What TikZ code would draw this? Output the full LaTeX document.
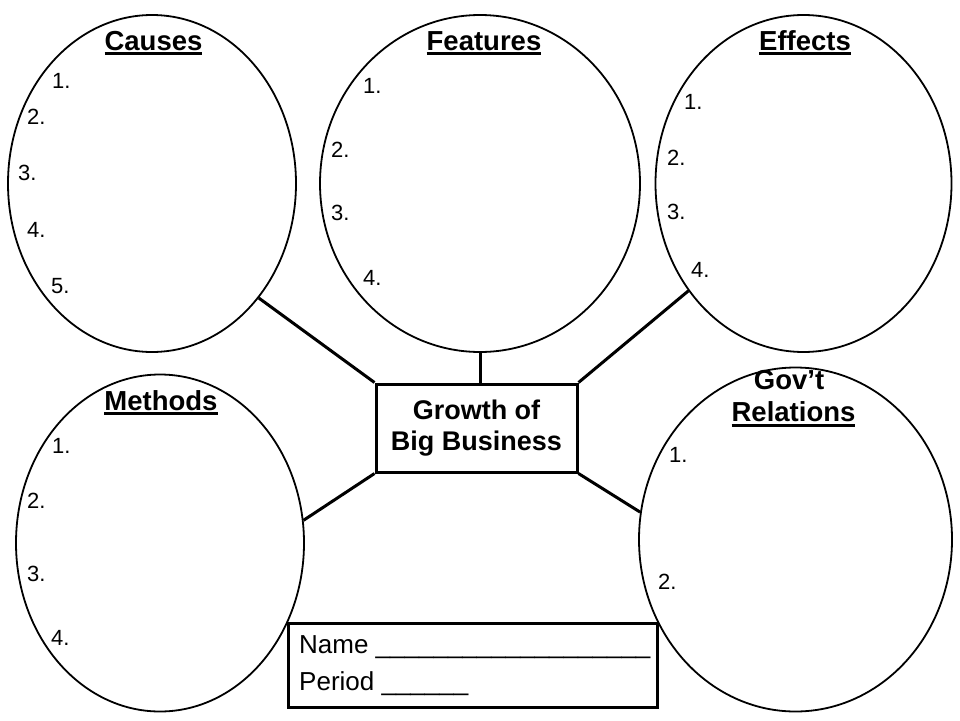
\documentclass[tikz,border=0pt]{standalone}
\usepackage{fontspec}
\setmainfont{Liberation Sans}
\usepackage{tikz}
\usetikzlibrary{shapes.geometric, calc}
\tikzset{
  bubble/.style = {ellipse, draw=black, line width=1.8pt, inner sep=0pt},% bulle
  hub_box/.style = {rectangle, draw=black, line width=3pt, inner sep=0pt,
    align=center, font=\fontsize{27}{31.5}\selectfont\bfseries},% boite centrale
  name_box/.style = {rectangle, draw=black, line width=3pt, inner sep=0pt},% nom et periode
  title_t/.style = {anchor=base, inner sep=0pt,
    font=\fontsize{27.5}{30}\selectfont\bfseries},% titre de bulle
  num_t/.style = {anchor=base west, inner sep=0pt,
    font=\fontsize{22}{24}\selectfont},% numero
  name_t/.style = {anchor=base west, inner sep=0pt,
    font=\fontsize{26}{30}\selectfont},% ligne a remplir
  spoke/.style = {line width=3pt}% rayon
}
\newcommand{\ulbar}[1]{\setbox0=\hbox{#1}\rlap{\rule[-5pt]{\wd0}{2.8pt}}\box0}

\begin{document}
\begin{tikzpicture}[x=1pt, y=-1pt]
\useasboundingbox (0,0) rectangle (960,720);

\node[bubble, minimum width=288, minimum height=337] (causes) at (152,183.5) {};
\node[bubble, minimum width=320, minimum height=337] (features) at (480,183.5) {};
\node[bubble, minimum width=296, minimum height=337] (effects) at (803.5,183.5) {};
\node[bubble, minimum width=288, minimum height=337] (methods) at (160,543) {};
\node[bubble, minimum width=313, minimum height=344] (govt) at (795.5,539.5) {};

\node[hub_box, minimum width=201, minimum height=88] (growth) at (476.5,428)
	{Growth of\\Big Business};
\node[name_box, minimum width=369, minimum height=84] (namebox) at (472.5,665) {};

\node[title_t] (t1) at (153.5,50) {\ulbar{Causes}};
\node[title_t] (t2) at (484,50) {\ulbar{Features}};
\node[title_t] (t3) at (805,50) {\ulbar{Effects}};
\node[title_t] (t4) at (161,410) {\ulbar{Methods}};
\node[title_t] (t5) at (789,389.3) {Gov’t};
\node[title_t] (t6) at (793.5,421.7) {\ulbar{Relations}};

\foreach \n/\x/\y in {1/52/88, 2/27/124, 3/18/180, 4/27/237, 5/51/293}
	\node[num_t] (c\n) at (\x,\y) {\n.};
\foreach \n/\x/\y in {1/363/93, 2/331/157, 3/331/220, 4/363/285}
	\node[num_t] (f\n) at (\x,\y) {\n.};
\foreach \n/\x/\y in {1/684/109, 2/667/165, 3/667/219, 4/691/277}
	\node[num_t] (e\n) at (\x,\y) {\n.};
\foreach \n/\x/\y in {1/52/453, 2/27/508, 3/27/581, 4/51/645}
	\node[num_t] (m\n) at (\x,\y) {\n.};
\foreach \n/\x/\y in {1/669/462, 2/658/589}
	\node[num_t] (g\n) at (\x,\y) {\n.};

\node[name_t] (nm) at (299,653) {Name \_\_\_\_\_\_\_\_\_\_\_\_\_\_\_\_\_\_\_};
\node[name_t] (pd) at (299,690) {Period \_\_\_\_\_\_};

\draw[spoke] (causes.-47) -- (growth.north west);
\draw[spoke] (features.south) -- (features.south |- growth.north);
\draw[spoke] (effects.-137.6) -- (growth.north east);
\draw[spoke] (methods.9) -- (growth.south west);
\draw[spoke] (govt.170) -- (growth.south east);
\end{tikzpicture}
\end{document}
